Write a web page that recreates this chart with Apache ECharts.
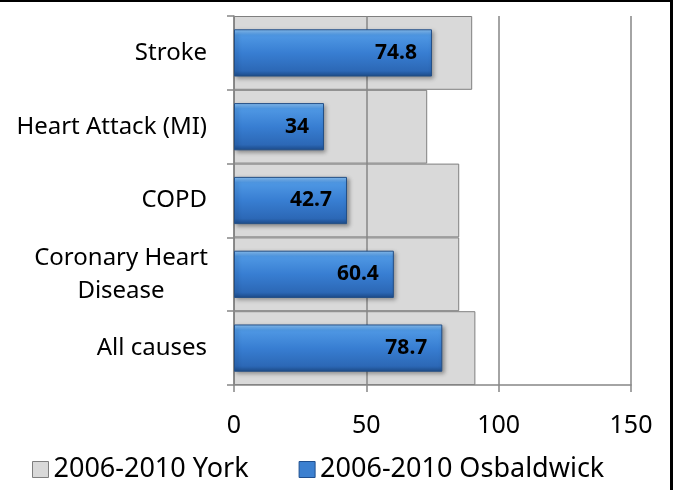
<!DOCTYPE html>
<html>
<head>
<meta charset="utf-8">
<script src="https://cdn.jsdelivr.net/npm/echarts@6/dist/echarts.min.js"></script>
<style>
html,body{margin:0;padding:0;background:#fff;}
#main{width:673px;height:490px;}
</style>
</head>
<body>
<div id="main"></div>
<script>
// categories, bottom to top
var categories = ['All causes', 'Coronary Heart Disease', 'COPD', 'Heart Attack (MI)', 'Stroke'];
var york = [91.2, 85.1, 85.1, 73.0, 90.0];
var osbaldwick = [78.7, 60.4, 42.7, 34, 74.8];
var seriesNames = ['2006-2010 York', '2006-2010 Osbaldwick'];
var xMin = 0, xMax = 150, xStep = 50;

var font = 'Noto Sans';
var chart = echarts.init(document.getElementById('main'));
var option = {
	animation: false,
	backgroundColor: '#fff',
	textStyle: {fontFamily: font},
	//top and right frame lines
	graphic: [
		{type: 'rect', left: 0, top: 0, shape: {width: 673, height: 2}, style: {fill: '#000'}},
		{type: 'rect', right: 0, top: 0, shape: {width: 3, height: 490}, style: {fill: '#000'}}
	],
	grid: {left: 234, right: 42, top: 16, bottom: 105},
	legend: {
		left: 27,
		bottom: 2,
		icon: 'rect',
		itemWidth: 16,
		itemHeight: 16,
		itemGap: 50,
		textStyle: {fontFamily: font, fontSize: 27, color: '#000'},
		data: [
			{name: seriesNames[0], itemStyle: {color: '#d9d9d9', borderColor: '#7f7f7f', borderWidth: 1}},
			{name: seriesNames[1], itemStyle: {color: '#3c80d0', borderColor: '#1f4f8f', borderWidth: 1}}
		]
	},
	xAxis: {
		type: 'value',
		min: xMin, max: xMax, interval: xStep,
		z: 3,
		axisLine: {show: true, lineStyle: {color: '#868686', width: 1.5}},
		axisTick: {show: true, length: 7, lineStyle: {color: '#868686', width: 1.5}},
		axisLabel: {fontSize: 25, color: '#000', margin: 28, fontFamily: font},
		splitLine: {show: true, lineStyle: {color: '#868686', width: 1.5}}
	},
	yAxis: [{
		type: 'category',
		data: categories,
		z: 3,
		axisLine: {show: true, lineStyle: {color: '#868686', width: 1.5}},
		axisTick: {show: true, length: 7, lineStyle: {color: '#868686', width: 1.5}},
		axisLabel: {
			fontSize: 24, color: '#000', margin: 27, fontFamily: font,
			formatter: function (v) {
				if (v === 'Coronary Heart Disease') return '{c|Coronary Heart}\n{c|Disease}';
				return v;
			},
			rich: {c: {width: 172, align: 'center', fontSize: 24, lineHeight: 33, fontFamily: font, color: '#000'}}
		}
	}, {
		type: 'category',
		data: categories,
		show: false
	}],
	series: [{
		name: seriesNames[0],
		type: 'bar',
		yAxisIndex: 0,
		barWidth: '100%',
		z: 2,
		itemStyle: {color: '#d9d9d9', borderColor: '#7f7f7f', borderWidth: 1},
		data: york
	}, {
		name: seriesNames[1],
		type: 'bar',
		yAxisIndex: 1,
		barWidth: '64%',
		z: 5,
		itemStyle: {
			color: new echarts.graphic.LinearGradient(0, 0, 0, 1, [
				{offset: 0, color: '#8cc4f8'},
				{offset: 0.12, color: '#4f98e4'},
				{offset: 0.5, color: '#387ed2'},
				{offset: 0.88, color: '#2c68b6'},
				{offset: 1, color: '#1d4c8a'}
			]),
			borderColor: '#234f86',
			borderWidth: 1,
			shadowColor: 'rgba(0,0,0,0.35)',
			shadowBlur: 4,
			shadowOffsetX: 2,
			shadowOffsetY: 2
		},
		label: {
			show: true,
			position: 'insideRight',
			distance: 15,
			fontFamily: font,
			fontWeight: 'bold',
			fontSize: 21,
			color: '#000'
		},
		data: osbaldwick
	}]
};
chart.setOption(option);
</script>
</body>
</html>
